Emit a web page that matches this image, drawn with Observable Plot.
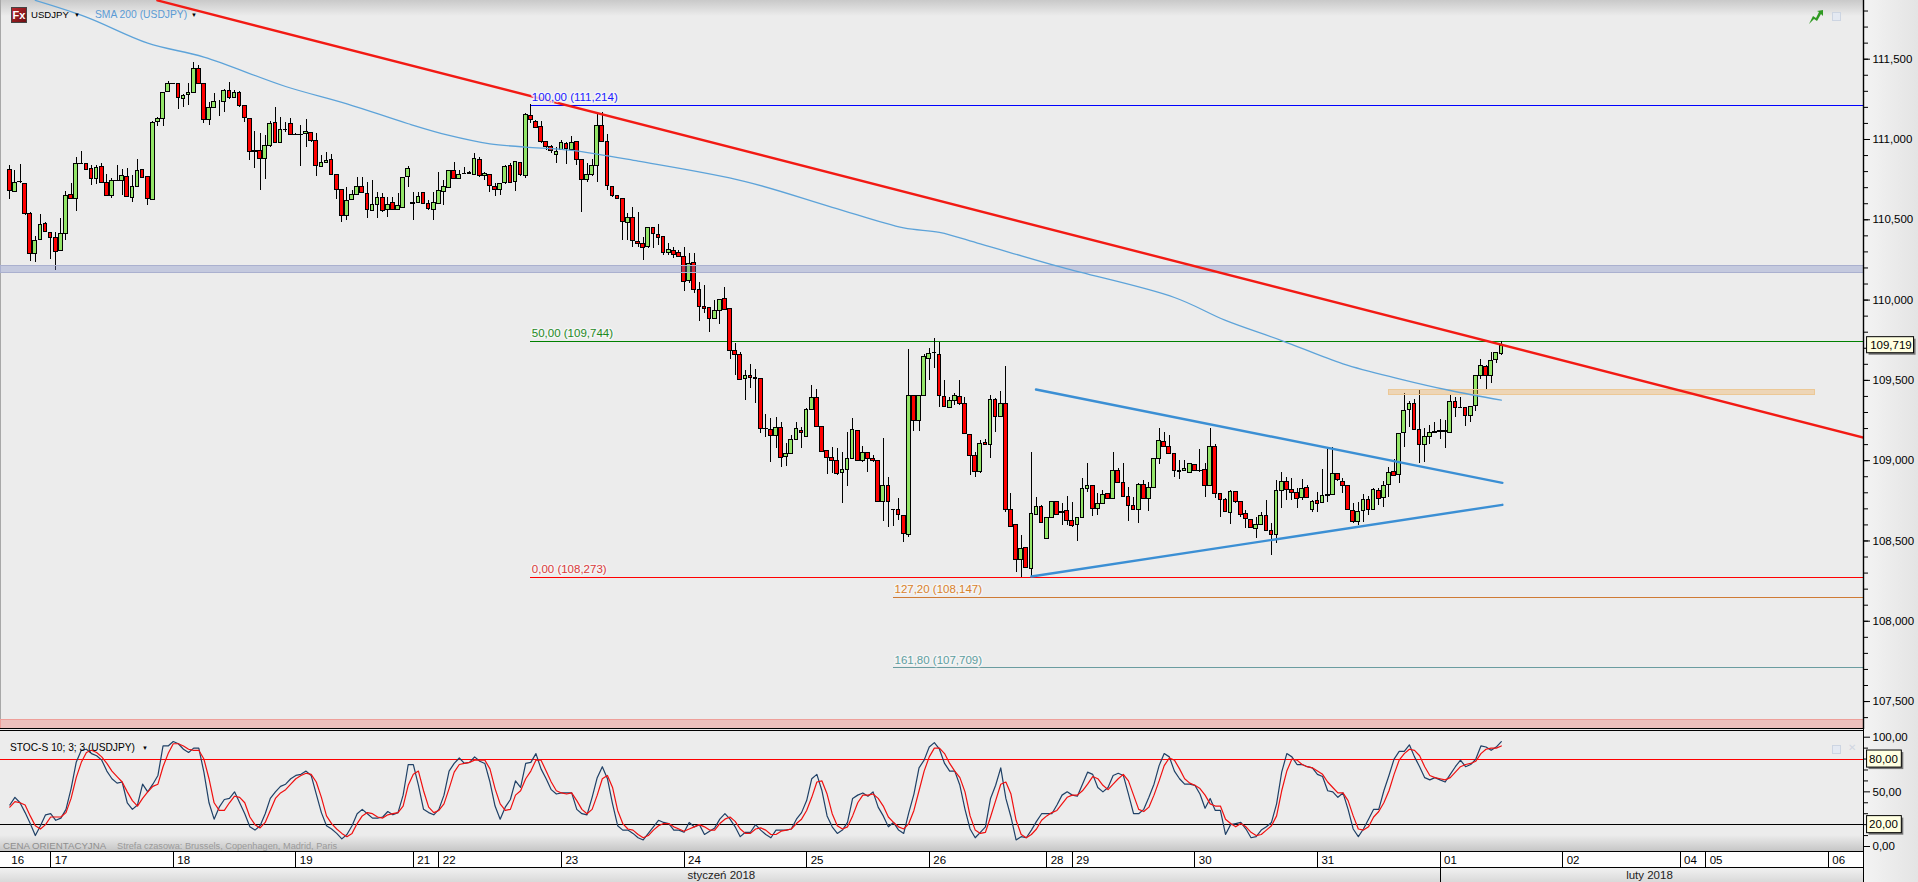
<!DOCTYPE html>
<html><head><meta charset="utf-8">
<script src="https://cdn.jsdelivr.net/npm/d3@7"></script>
<script src="https://cdn.jsdelivr.net/npm/@observablehq/plot@0.6"></script>
<style>
html,body{margin:0;padding:0;background:#ececec;overflow:hidden}
#page{position:relative;width:1918px;height:882px;overflow:hidden;font-family:"Liberation Sans",sans-serif;background:#ececec}
#page>*{position:absolute}
#page svg{display:block;background:transparent;overflow:visible}
.lbl{font:11px "Liberation Sans",sans-serif;white-space:nowrap;line-height:14px}
</style></head><body><div id="page"></div>
<script>
// ---- bars (hourly USDJPY), one entry per bar ----
const opens=[
110.811,110.670,110.737,110.724,110.537,110.288,110.375,110.475,110.417,110.388,
110.307,110.413,110.655,110.631,110.849,110.849,110.815,110.755,110.830,110.728,
110.649,110.743,110.743,110.766,110.637,110.705,110.809,110.766,110.624,111.106,
111.129,111.295,111.347,111.347,111.251,111.274,111.289,111.440,111.347,111.119,
111.198,111.233,111.235,111.303,111.260,111.291,111.208,111.129,110.928,110.928,
110.880,110.957,111.104,110.980,111.056,111.098,111.031,111.031,111.033,111.040,
110.990,110.830,110.853,110.874,110.780,110.687,110.525,110.625,110.654,110.703,
110.662,110.554,110.595,110.637,110.558,110.606,110.562,110.575,110.766,110.600,
110.604,110.668,110.600,110.562,110.600,110.674,110.699,110.803,110.755,110.786,
110.790,110.778,110.874,110.772,110.778,110.703,110.687,110.726,110.832,110.734,
110.855,110.774,111.148,111.108,111.077,110.982,110.953,110.903,110.936,110.973,
110.932,110.986,110.874,110.745,110.776,110.832,111.085,110.986,110.703,110.649,
110.631,110.483,110.512,110.361,110.348,110.329,110.451,110.406,110.391,110.294,
110.304,110.292,110.267,110.121,110.229,110.063,109.955,109.949,109.885,109.935,
110.005,109.943,109.682,109.659,109.508,109.526,109.516,109.508,109.198,109.192,
109.151,109.205,109.022,109.043,109.130,109.184,109.148,109.313,109.391,109.209,
109.059,109.018,108.997,108.922,108.943,109.009,109.184,109.001,109.047,109.009,
108.999,108.742,108.841,108.692,108.694,108.657,108.538,109.404,109.250,109.404,
109.634,109.669,109.659,109.396,109.329,109.369,109.396,109.354,109.161,109.032,
108.928,109.111,109.099,109.379,109.271,109.354,108.694,108.600,108.382,108.457,
108.326,108.660,108.713,108.511,108.642,108.742,108.679,108.685,108.623,108.600,
108.642,108.825,108.843,108.700,108.731,108.793,108.762,108.933,108.862,108.773,
108.717,108.694,108.850,108.762,108.831,109.011,109.115,109.088,109.043,108.933,
108.935,108.924,108.972,108.935,108.943,108.843,109.084,108.791,108.756,108.675,
108.804,108.742,108.669,108.632,108.575,108.600,108.656,108.561,108.540,108.814,
108.866,108.820,108.798,108.769,108.829,108.694,108.748,108.737,108.783,108.789,
108.916,108.866,108.843,108.686,108.621,108.688,108.756,108.694,108.810,108.769,
108.850,108.928,108.912,109.173,109.313,109.354,109.192,109.099,109.148,109.175,
109.181,109.183,109.175,109.364,109.329,109.329,109.279,109.342,109.530,109.582,
109.530,109.628,109.665];
const highs=[
110.838,110.807,110.842,110.728,110.545,110.396,110.531,110.485,110.417,110.423,
110.508,110.674,110.724,110.890,110.925,110.849,110.838,110.838,110.849,110.782,
110.755,110.838,110.811,110.817,110.776,110.873,110.811,110.766,111.112,111.139,
111.291,111.362,111.349,111.347,111.278,111.347,111.478,111.461,111.347,111.233,
111.285,111.243,111.310,111.357,111.305,111.301,111.208,111.129,111.050,111.036,
111.025,111.114,111.198,111.139,111.108,111.129,111.040,111.087,111.125,111.046,
111.040,110.901,110.921,110.907,110.780,110.687,110.703,110.683,110.766,110.766,
110.735,110.745,110.672,110.666,110.641,110.641,110.662,110.762,110.834,110.672,
110.672,110.672,110.620,110.672,110.797,110.745,110.807,110.859,110.807,110.828,
110.801,110.911,110.890,110.793,110.778,110.728,110.728,110.838,110.849,110.865,
110.859,111.160,111.216,111.119,111.114,110.982,110.961,110.953,110.994,110.982,
111.021,110.986,110.874,110.849,110.874,111.160,111.170,111.029,110.708,110.651,
110.631,110.537,110.579,110.548,110.391,110.453,110.451,110.468,110.391,110.350,
110.329,110.308,110.329,110.287,110.287,110.111,110.090,109.955,109.997,110.001,
110.080,109.943,109.732,109.672,109.562,109.599,109.566,109.508,109.285,109.261,
109.271,109.240,109.105,109.157,109.240,109.209,109.323,109.468,109.441,109.209,
109.059,109.084,109.074,109.053,109.173,109.261,109.188,109.088,109.047,109.032,
109.001,109.136,108.897,108.696,108.762,108.657,109.692,109.404,109.404,109.661,
109.696,109.759,109.734,109.499,109.392,109.416,109.499,109.391,109.161,109.053,
109.126,109.130,109.406,109.385,109.431,109.587,108.794,108.600,108.534,108.461,
109.049,108.773,108.721,108.642,108.742,108.742,108.731,108.779,108.742,108.648,
108.887,108.980,108.843,108.793,108.814,108.798,109.049,108.949,108.984,108.835,
108.773,108.856,108.877,108.866,109.011,109.198,109.177,109.157,109.043,108.999,
108.999,108.980,108.976,109.067,108.980,109.198,109.099,108.793,108.762,108.814,
108.808,108.742,108.690,108.632,108.648,108.679,108.752,108.607,108.877,108.928,
108.897,108.887,108.825,108.881,108.845,108.752,108.804,108.945,109.078,109.084,
108.916,108.887,108.843,108.731,108.742,108.787,108.777,108.829,108.825,108.872,
108.960,109.005,109.171,109.416,109.369,109.379,109.437,109.198,109.219,109.240,
109.254,109.250,109.404,109.391,109.391,109.329,109.337,109.533,109.630,109.593,
109.672,109.676,109.744];
const lows=[
110.628,110.670,110.724,110.527,110.242,110.236,110.371,110.423,110.255,110.184,
110.305,110.371,110.628,110.554,110.845,110.807,110.714,110.720,110.724,110.647,
110.635,110.739,110.651,110.637,110.610,110.703,110.755,110.589,110.620,111.081,
111.081,111.295,111.343,111.185,111.202,111.212,111.285,111.347,111.102,111.087,
111.198,111.143,111.170,111.247,111.254,111.202,111.108,110.869,110.818,110.683,
110.751,110.952,110.973,110.973,111.046,111.031,111.025,110.834,110.952,110.984,
110.772,110.828,110.849,110.776,110.625,110.485,110.496,110.620,110.652,110.662,
110.506,110.554,110.506,110.548,110.517,110.558,110.558,110.568,110.703,110.496,
110.604,110.595,110.558,110.496,110.595,110.587,110.693,110.751,110.751,110.783,
110.785,110.776,110.766,110.745,110.672,110.647,110.652,110.718,110.724,110.676,
110.770,110.755,111.098,111.071,110.977,110.932,110.911,110.849,110.932,110.845,
110.932,110.838,110.548,110.734,110.770,110.735,110.984,110.683,110.637,110.625,
110.371,110.371,110.330,110.325,110.246,110.319,110.319,110.339,110.277,110.277,
110.256,110.267,110.055,110.101,110.038,109.868,109.914,109.800,109.880,109.851,
109.935,109.627,109.530,109.499,109.375,109.452,109.354,109.171,109.146,108.991,
109.074,108.960,108.966,109.038,109.126,109.074,109.146,109.313,109.204,109.053,
108.914,108.918,108.908,108.731,108.841,109.005,108.995,108.991,108.926,108.991,
108.742,108.623,108.582,108.590,108.627,108.492,108.524,109.184,109.184,109.404,
109.499,109.576,109.333,109.329,109.323,109.344,109.344,109.163,108.910,108.897,
108.922,109.095,109.016,109.178,109.271,108.679,108.582,108.306,108.274,108.326,
108.274,108.660,108.607,108.511,108.638,108.658,108.596,108.596,108.586,108.499,
108.638,108.804,108.654,108.659,108.731,108.756,108.758,108.856,108.773,108.623,
108.690,108.611,108.758,108.686,108.825,108.974,109.084,109.038,108.893,108.885,
108.933,108.918,108.933,108.929,108.773,108.839,108.762,108.648,108.675,108.603,
108.735,108.648,108.580,108.575,108.517,108.596,108.557,108.407,108.486,108.700,
108.752,108.752,108.704,108.752,108.762,108.679,108.679,108.735,108.742,108.783,
108.872,108.793,108.690,108.611,108.596,108.617,108.659,108.690,108.721,108.706,
108.773,108.901,108.856,109.084,109.209,109.192,108.984,108.991,109.099,109.167,
109.130,109.078,109.171,109.271,109.327,109.215,109.240,109.308,109.506,109.441,
109.483,109.603,109.655];
const closes=[
110.678,110.728,110.734,110.533,110.288,110.369,110.467,110.425,110.388,110.300,
110.411,110.649,110.631,110.849,110.845,110.811,110.755,110.822,110.730,110.649,
110.741,110.741,110.774,110.645,110.703,110.805,110.759,110.631,111.104,111.127,
111.291,111.347,111.345,111.258,111.272,111.289,111.440,111.347,111.119,111.198,
111.235,111.233,111.303,111.258,111.291,111.208,111.131,110.921,110.924,110.880,
110.957,111.098,110.980,111.056,111.058,111.031,111.029,111.029,111.048,110.990,
110.832,110.855,110.865,110.780,110.687,110.521,110.620,110.654,110.703,110.666,
110.558,110.591,110.637,110.554,110.595,110.562,110.585,110.762,110.818,110.602,
110.641,110.600,110.567,110.604,110.679,110.703,110.803,110.755,110.780,110.785,
110.788,110.878,110.772,110.786,110.708,110.687,110.720,110.830,110.730,110.861,
110.778,111.154,111.119,111.073,110.982,110.953,110.928,110.919,110.977,110.938,
110.977,110.874,110.749,110.780,110.838,111.087,110.986,110.708,110.649,110.631,
110.485,110.512,110.371,110.348,110.327,110.451,110.412,110.387,110.294,110.312,
110.279,110.271,110.113,110.225,110.063,109.955,109.945,109.885,109.935,110.001,
109.939,109.685,109.659,109.503,109.526,109.516,109.506,109.198,109.196,109.151,
109.205,109.018,109.043,109.130,109.198,109.171,109.317,109.391,109.209,109.053,
109.018,108.997,108.918,108.943,109.011,109.192,109.001,109.047,109.009,108.999,
108.742,108.841,108.742,108.690,108.663,108.544,109.404,109.250,109.404,109.647,
109.665,109.671,109.404,109.333,109.371,109.404,109.354,109.167,109.030,108.928,
109.103,109.099,109.375,109.271,109.354,108.694,108.590,108.382,108.451,108.333,
108.669,108.713,108.611,108.642,108.742,108.663,108.677,108.623,108.592,108.642,
108.825,108.843,108.700,108.729,108.787,108.760,108.937,108.862,108.773,108.717,
108.694,108.850,108.762,108.831,109.011,109.124,109.088,109.043,108.935,108.931,
108.947,108.978,108.935,108.933,108.843,109.086,108.793,108.752,108.679,108.804,
108.740,108.663,108.638,108.582,108.600,108.656,108.561,108.540,108.810,108.866,
108.820,108.800,108.762,108.825,108.769,108.742,108.731,108.781,108.785,108.916,
108.877,108.843,108.690,108.615,108.679,108.752,108.694,108.818,108.762,108.841,
108.922,108.906,109.167,109.308,109.352,109.192,109.099,109.146,109.171,109.177,
109.183,109.181,109.366,109.329,109.327,109.279,109.333,109.528,109.589,109.530,
109.620,109.669,109.717];

// ---- SMA 200, read at its visible bends ----
const smaBar=[5,15,27,38,54,66,78,86,94,101,110,123,144,161,175,182,190,206,228,238,249,261,272,282,292];
const smaVal=[111.866,111.762,111.600,111.513,111.330,111.222,111.098,111.025,110.973,110.953,110.932,110.865,110.738,110.578,110.449,110.422,110.350,110.203,110.016,109.873,109.748,109.603,109.510,109.437,109.377];

// ---- drawn trend lines: bar / price at both ends ----
const downTrendBar=[28.9,362.9], downTrendPrice=[111.866,109.144];
const wedgeTopBar=[200.9,292.2], wedgeTopPrice=[109.443,108.862];
const wedgeLowBar=[200,292.2], wedgeLowPrice=[108.279,108.725];

// ---- Fibonacci levels ----
const fibText=["100,00 (111,214)","50,00 (109,744)","0,00 (108,273)","127,20 (108,147)","161,80 (107,709)"];
const fibPrice=[111.214,109.744,108.273,108.147,107.709];
const fibStart=[102,102,102,173,173];
const fibColor=["#0000ff","#008000","#ff0000","#cf7a35","#6a9ca0"];
const fibText2=["#1a1aff","#1f8a1f","#d93a3a","#d9822b","#5f9ea0"];

// ---- zones: start bar, end bar, upper, lower ----
const zoneStart=[-1.82,-1.82,270], zoneEnd=[362.9,362.9,353.5];
const zoneTop=[110.214,107.387,109.442], zoneBottom=[110.170,107.331,109.408];
const zoneFill=["rgb(120,135,195)","rgb(240,110,100)","rgb(240,170,80)"];
const zoneStroke=["#aab0cf","#ee9f9a","#ecc896"];

// ---- axes ----
const priceMajor=[107.5,108,108.5,109,109.5,110,110.5,111,111.5];
const priceMinor=[107.4,107.5,107.6,107.7,107.8,107.9,108,108.1,108.2,108.3,108.4,108.5,108.6,108.7,108.8,108.9,109,109.1,109.2,109.3,109.4,109.5,109.6,109.7,109.8,109.9,110,110.1,110.2,110.3,110.4,110.5,110.6,110.7,110.8,110.9,111,111.1,111.2,111.3,111.4,111.5,111.6,111.7,111.8];
const stochMajor=[0,50,100], stochMinor=[10,20,30,40,60,70,80,90];
const dayBar=[8,32,56,79,84,108,132,156,180,203,208,232,256,280,304,327,332,356];
const dayText=["17","18","19","21","22","23","24","25","26","28","29","30","31","01","02","04","05","06"];
const firstDay="16";
const monthBar=[139.3,321], monthText=["styczeń 2018","luty 2018"], monthBreak=[280];
const lastPrice=109.719;

// ---- stochastic 10;3;3 ----
const stochK=[
38,45,40,31,21,10,19,29,30,24,26,34,53,77,88,89,85,83,79,69,62,58,59,40,34,38,57,50,57,65,92,92,96,94,89,86,90,90,68,40,25,36,43,44,50,40,30,18,15,19,30,44,50,55,57,62,65,66,69,65,48,31,19,16,12,7,11,19,30,34,30,26,26,27,32,29,31,47,75,75,56,34,31,29,34,47,69,76,81,76,77,82,78,76,59,37,25,36,43,60,54,76,77,85,71,62,52,48,49,49,49,34,30,29,45,63,73,62,39,19,15,15,12,8,
6,12,18,24,22,21,15,15,13,22,18,20,11,14,17,25,30,25,18,9,13,13,20,15,11,8,15,15,15,16,25,31,42,62,66,51,28,18,12,15,22,44,47,49,46,50,36,28,18,22,15,12,31,48,72,79,91,95,89,76,69,69,56,34,16,8,13,18,44,56,72,44,27,6,9,8,15,23,30,30,30,38,47,50,47,46,57,68,66,54,50,54,65,67,65,48,30,30,34,45,57,74,85,82,69,62,57,57,56,48,35,44,33,33,11,20,21,22,16,8,9,15,18,22,39,
68,85,82,75,75,73,72,66,64,51,50,45,49,34,16,9,16,25,34,34,51,65,80,87,87,93,82,73,63,61,63,61,59,66,73,79,73,75,80,92,91,88,91,96];
const stochD=[
36,41,40,38,28,19,16,20,27,27,27,31,44,63,77,86,88,86,82,76,69,64,59,50,42,37,44,50,55,57,73,85,94,94,92,89,88,88,80,62,40,33,33,40,46,45,40,27,20,17,22,33,44,49,52,57,62,65,67,66,59,45,28,21,16,12,9,12,21,28,31,30,27,26,29,30,31,37,56,66,69,51,36,31,33,39,53,68,75,76,77,79,79,79,71,53,39,33,34,47,51,62,69,79,79,69,59,51,49,48,49,42,34,30,34,47,62,65,54,33,21,16,15,11,
8,10,15,19,21,21,18,16,14,16,18,20,18,15,15,21,25,27,23,16,12,12,16,17,15,11,11,14,15,16,21,25,33,45,59,60,48,30,19,16,18,28,40,47,47,48,44,37,27,22,18,16,21,33,51,69,82,90,90,85,76,69,63,50,28,15,12,13,27,42,57,59,48,24,11,8,11,16,24,28,31,33,39,45,47,47,51,57,64,62,56,52,57,62,66,60,47,34,32,36,47,60,74,81,79,71,62,58,56,53,47,39,37,37,25,21,18,21,18,13,10,11,15,19,28,
51,69,80,79,75,73,72,69,66,59,54,49,49,42,28,16,15,18,27,32,40,51,66,79,85,89,88,83,73,65,63,62,61,63,68,73,75,76,78,85,89,90,90,92];

// ---- build ----
const bars=opens.map((o,i)=>({i,o,h:highs[i],l:lows[i],c:closes[i]}));
const XMIN=-1.82, XAXIS=362.9;
const fmt3=d=>d3.format(".3f")(d).replace(".",",");
const fmt2=d=>d3.format(".2f")(d).replace(".",",");
const axisFont="Liberation Sans", fs=11.5;
const page=document.getElementById("page");
function place(el,top,left=0){el.style.top=top+"px";el.style.left=left+"px";page.appendChild(el);return el;}
function box(css,top,left,w,h){const d=document.createElement("div");d.style.cssText=css;d.style.width=w+"px";d.style.height=h+"px";return place(d,top,left);}
function label(txt,top,left,color,size=11){const d=document.createElement("div");d.className="lbl";d.textContent=txt;d.style.color=color;d.style.fontSize=size+"px";return place(d,top,left);}

// background chrome
box("background:linear-gradient(#c9c9c9,#ececec)",0,0,1864,16);
box("background:linear-gradient(#ececec,#c6c6c6)",835,0,1864,16);
box("background:linear-gradient(90deg,#f3f3f3,#e4e4e4)",0,1864,54,882);
box("background:#a8a8a8",0,0,1,728);
box("background:#fff;border-top:1px solid #000;border-bottom:1px solid #000;box-sizing:border-box",851,0,1864,17);
box("background:linear-gradient(#f1f1f1,#d9d9d9)",868,0,1864,14);

const common={width:1918,marginLeft:0,marginRight:55,marginTop:0,marginBottom:0,style:{background:"transparent",overflow:"visible"}};
const xs={domain:[XMIN,XAXIS],axis:null};

// main price panel
const zones=zoneStart.map((s,i)=>({s,e:zoneEnd[i],t:zoneTop[i],b:zoneBottom[i],f:zoneFill[i],k:zoneStroke[i]}));
const fibs=fibPrice.map((p,i)=>({p,t:fibText[i],s:fibStart[i],c:fibColor[i],tc:fibText2[i]}));
const lineRows=(bs,ps)=>bs.map((b,i)=>({b,p:ps[i]}));
const main=Plot.plot({...common,height:729,x:xs,y:{domain:[107.326,111.8655],axis:null},marks:[
  Plot.ruleY(fibs,{y:"p",x1:"s",x2:XAXIS,stroke:"c",strokeWidth:1,shapeRendering:"crispEdges"}),
  Plot.ruleX(bars,{x:"i",y1:"l",y2:"h",stroke:"#000",strokeWidth:1,shapeRendering:"crispEdges"}),
  Plot.rect(bars,{x1:d=>d.i-0.36,x2:d=>d.i+0.36,y1:"o",y2:"c",fill:d=>d.c>=d.o?"#93e568":"#ff0000",stroke:"#000",strokeWidth:1,shapeRendering:"crispEdges"}),
  Plot.rect(zones,{x1:"s",x2:"e",y1:"t",y2:"b",fill:"f",fillOpacity:0.34,stroke:"k",strokeWidth:1,shapeRendering:"crispEdges"}),
  Plot.line(smaBar.map((b,i)=>({b,p:smaVal[i]})),{x:"b",y:"p",stroke:"#5da3d9",strokeWidth:1.3,clip:true,curve:"catmull-rom"}),
  Plot.line(lineRows(downTrendBar,downTrendPrice),{x:"b",y:"p",stroke:"#f21a14",strokeWidth:2.4,clip:true}),
  Plot.line(lineRows(wedgeTopBar,wedgeTopPrice),{x:"b",y:"p",stroke:"#3b8fd4",strokeWidth:2.4}),
  Plot.line(lineRows(wedgeLowBar,wedgeLowPrice),{x:"b",y:"p",stroke:"#3b8fd4",strokeWidth:2.4}),
  Plot.text(fibs,{x:"s",y:"p",text:"t",fill:"tc",dx:1,dy:-8,textAnchor:"start",fontSize:fs,fontFamily:axisFont,stroke:"#f6f6f6",strokeWidth:3,strokeOpacity:.85,paintOrder:"stroke"}),
  Plot.ruleX([XAXIS],{stroke:"#000",strokeWidth:1.4}),
  Plot.axisY({anchor:"right",ticks:priceMinor,tickSize:4,tickFormat:()=>"",tickPadding:0,label:null,stroke:"#000"}),
  Plot.axisY({anchor:"right",ticks:priceMajor,tickSize:6,tickPadding:3,tickFormat:fmt3,label:null,fontSize:fs,fontFamily:axisFont,fill:"#000",stroke:"#000",textAnchor:"start"}),
  Plot.rect([lastPrice],{x1:363.6,x2:372.8,y1:d=>d-0.05,y2:d=>d+0.05,fill:"#777",dx:2,dy:2}),
  Plot.rect([lastPrice],{x1:363.6,x2:372.8,y1:d=>d-0.05,y2:d=>d+0.05,fill:"#ffffe1",stroke:"#000",strokeWidth:1}),
  Plot.text([lastPrice],{x:364.2,y:d=>d,text:fmt3,textAnchor:"start",fontSize:fs,fontFamily:axisFont,fill:"#000"})
]});
place(main,0,0);

box("background:#000",728,0,1864,1);
box("background:#000",730,0,1864,1);

// stochastic panel
const stTags=[80,20];
const stoch=Plot.plot({...common,height:122,x:xs,y:{domain:[0,100],range:[117,7.7],axis:null},marks:[
  Plot.ruleY([80],{x1:XMIN,x2:XAXIS,stroke:"#ff0000",strokeWidth:1,shapeRendering:"crispEdges"}),
  Plot.ruleY([20],{x1:XMIN,x2:XAXIS,stroke:"#000",strokeWidth:1,shapeRendering:"crispEdges"}),
  Plot.line(stochK,{x:(d,i)=>i,y:d=>d,stroke:"#1f4066",strokeWidth:1.2}),
  Plot.line(stochD,{x:(d,i)=>i,y:d=>d,stroke:"#f01010",strokeWidth:1.2}),
  Plot.axisY({anchor:"right",ticks:stochMinor,tickSize:4,tickFormat:()=>"",tickPadding:0,label:null,stroke:"#000"}),
  Plot.axisY({anchor:"right",ticks:stochMajor,tickSize:6,tickPadding:3,tickFormat:fmt2,label:null,fontSize:fs,fontFamily:axisFont,fill:"#000",stroke:"#000",textAnchor:"start"}),
  Plot.rect(stTags,{x1:363.6,x2:370.4,y1:d=>d-7.8,y2:d=>d+7.8,fill:"#777",dx:2,dy:2}),
  Plot.rect(stTags,{x1:363.6,x2:370.4,y1:d=>d-7.8,y2:d=>d+7.8,fill:"#ffffe1",stroke:"#000",strokeWidth:1}),
  Plot.text(stTags,{x:364,y:d=>d,text:fmt2,textAnchor:"start",fontSize:fs,fontFamily:axisFont,fill:"#000"})
]});
place(stoch,729,0);

// day row
const days=Plot.plot({...common,height:15,x:xs,y:{axis:null},marks:[
  Plot.ruleX(dayBar,{stroke:"#000",strokeWidth:1,shapeRendering:"crispEdges"}),
  Plot.text(dayBar,{x:d=>d,text:(d,i)=>dayText[i],frameAnchor:"middle",dx:4,textAnchor:"start",fontSize:fs,fontFamily:axisFont,fill:"#000"}),
  Plot.text([firstDay],{x:-0.5,text:d=>d,frameAnchor:"middle",dx:4,textAnchor:"start",fontSize:fs,fontFamily:axisFont,fill:"#000"})
]});
place(days,852,0);

// month row
const months=Plot.plot({...common,height:14,x:xs,y:{axis:null},marks:[
  Plot.ruleX(monthBreak,{stroke:"#000",strokeWidth:1,shapeRendering:"crispEdges"}),
  Plot.text(monthBar,{x:d=>d,text:(d,i)=>monthText[i],frameAnchor:"middle",textAnchor:"middle",fontSize:fs,fontFamily:axisFont,fill:"#222"})
]});
place(months,868,0);
box("background:#000",0,1863,1.4,882);

// legend and captions
box("background:linear-gradient(135deg,#b8262c,#6e0f12);border:1px solid #444;box-sizing:border-box;color:#fff;font:bold 11px 'Liberation Sans';text-align:center;line-height:14px",7,11,16,16).textContent="Fx";
label("USDJPY",8,31,"#000",9.6);
label("▼",8,74,"#000",6);
label("SMA 200 (USDJPY)",8,95,"#5b9bd5",10.3);
label("▼",8,191,"#000",6);
label("STOC-S 10; 3; 3 (USDJPY)",741,10,"#000",10.2);
label("▼",741,142,"#000",6);
label("CENA ORIENTACYJNA",839,3,"#8f8f8f",9.7);
label("Strefa czasowa: Brussels, Copenhagen, Madrid, Paris",839,117,"#9a9a9a",9.2);
const ns="http://www.w3.org/2000/svg";
const ic=document.createElementNS(ns,"svg");ic.setAttribute("width","15");ic.setAttribute("height","14");
ic.innerHTML='<path d="M0 14 L4 6 L7 8 L10 2 L8 1 L14 0 L14 6 L12 4 L8 11 L5 9 Z" fill="#2f9a22"/>';
ic.style.overflow="visible";place(ic,10,1809);
for(const [t,l] of [[12,1832],[745,1832]]) box("border:1px solid #cdd5e2;background:#e4e9f2;box-sizing:border-box",t,l,9,9);
label("✕",741,1848,"#d0d6e2",10);
</script></body></html>
